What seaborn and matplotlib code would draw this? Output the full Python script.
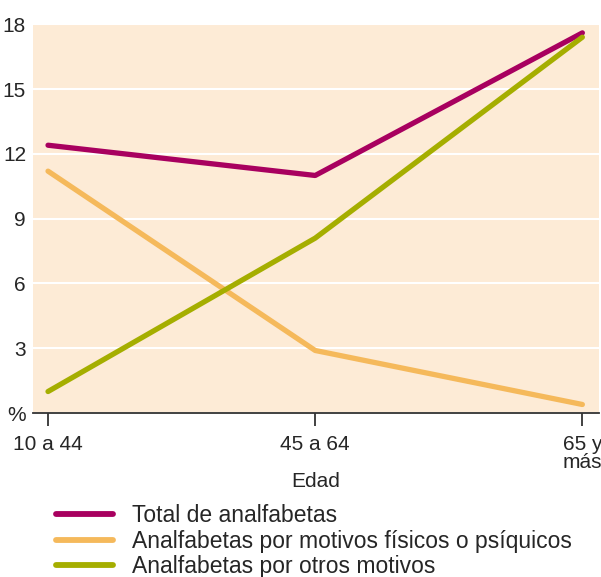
import pandas as pd
import seaborn as sns
import matplotlib.pyplot as plt

# age groups and % of illiterate population
edades = ["10 a 44", "45 a 64", "65 y\nmás"]
total = [12.4, 11.0, 17.6]
fisicos = [11.2, 2.9, 0.4]
otros = [1.0, 8.1, 17.4]

series = ["Total de analfabetas",
          "Analfabetas por motivos físicos o psíquicos",
          "Analfabetas por otros motivos"]
colores = ["#A8005F", "#F5B95B", "#A5AE00"]
yticks = [0, 3, 6, 9, 12, 15, 18]
yticklabels = ["%", "3", "6", "9", "12", "15", "18"]

rows = []
for name, vals in zip(series, [total, fisicos, otros]):
    for i, v in enumerate(vals):
        rows.append({"x": i, "valor": v, "serie": name})
df = pd.DataFrame(rows)

sns.set_style("white")
plt.rcParams["font.family"] = ["Liberation Sans", "DejaVu Sans"]

fig = plt.figure(figsize=(6.01, 5.77), dpi=100)
ax = fig.add_axes([0.055, 0.284, 0.942, 0.674])
ax.set_facecolor("#FDEBD6")

sns.lineplot(data=df, x="x", y="valor", hue="serie", hue_order=series,
             palette=colores, linewidth=3.8, ax=ax, legend=False,
             solid_capstyle="round")

ax.set_xlim(-0.056, 2.063)
ax.set_ylim(0, 18)
ax.set_yticks(yticks)
ax.set_yticklabels(yticklabels, fontsize=15)
ax.set_xticks(range(len(edades)))
ax.set_xticklabels(edades, fontsize=15, linespacing=0.9)
ax.set_xlabel("Edad", fontsize=15, labelpad=0)
ax.set_ylabel("")
ax.grid(axis="y", color="white", linewidth=1.5)
ax.set_axisbelow(True)

for s in ["top", "right", "left"]:
    ax.spines[s].set_visible(False)
ax.spines["bottom"].set_color("#333333")
ax.spines["bottom"].set_linewidth(1.3)
ax.tick_params(axis="x", bottom=True, length=9, width=1.3, color="#333333",
               pad=7)
ax.tick_params(axis="y", left=False, length=0, pad=5)

handles = [plt.Line2D([], [], color=c, linewidth=4.2, solid_capstyle="round")
           for c in colores]
fig.legend(handles, series, loc="upper left", bbox_to_anchor=(0.093, 0.126),
           frameon=False, fontsize=16.5, handlelength=2.5, handletextpad=0.8,
           labelspacing=0.1, borderpad=0, borderaxespad=0)

fig.savefig("out.png", dpi=100)
